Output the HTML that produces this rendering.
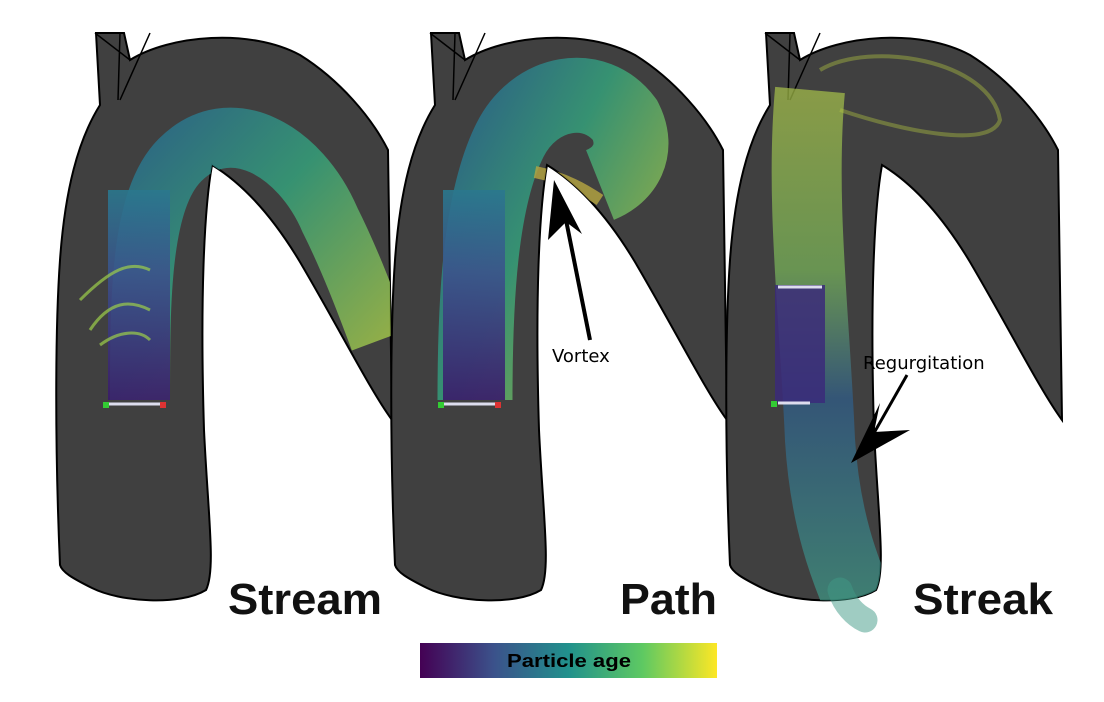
<!DOCTYPE html>
<html><head><meta charset="utf-8"><style>
html,body{margin:0;padding:0;background:#fff;width:1104px;height:702px;overflow:hidden}
svg{display:block}
text{font-family:"Liberation Sans","DejaVu Sans",sans-serif}
</style></head><body>
<svg width="1104" height="702" viewBox="0 0 1104 702">
<defs>
<linearGradient id="vir" x1="0" x2="1" y1="0" y2="0">
<stop offset="0" stop-color="#440154"/><stop offset="0.25" stop-color="#3b528b"/><stop offset="0.5" stop-color="#21918c"/><stop offset="0.75" stop-color="#5ec962"/><stop offset="1" stop-color="#fde725"/>
</linearGradient>
<linearGradient id="asc" x1="0" x2="0" y1="1" y2="0">
<stop offset="0" stop-color="#3a1a6a"/><stop offset="0.6" stop-color="#3b528b"/><stop offset="1" stop-color="#2a788e"/>
</linearGradient>
<linearGradient id="arch1" x1="0" x2="1" y1="0" y2="1">
<stop offset="0" stop-color="#2a6f8e"/><stop offset="0.4" stop-color="#35a07a"/><stop offset="1" stop-color="#b5c840"/>
</linearGradient>
<linearGradient id="streak" x1="0" x2="0" y1="0" y2="1">
<stop offset="0" stop-color="#a8c24a"/><stop offset="0.35" stop-color="#7ab85a"/><stop offset="0.6" stop-color="#2f5f8e"/><stop offset="1" stop-color="#3f9a86"/>
</linearGradient>
<path id="aorta" d="M60,565 C55,450 55,330 60,260 C65,190 78,140 100,105 L96,33 L124,33 L130,60 C170,35 250,28 300,55 C340,80 372,118 388,150 L392,420 C370,390 340,330 300,262 C270,212 240,182 212,165 C204,210 200,300 204,430 C208,515 216,570 206,590 C180,606 120,602 92,588 C72,578 62,572 60,565 Z"/>
<clipPath id="clipA"><use href="#aorta"/></clipPath>
</defs>

<g>
<use href="#aorta" fill="#404040" stroke="#000" stroke-width="2"/>
<path d="M95,33 L130,60 M120,33 L118,100 M150,33 L120,100" stroke="#000" stroke-width="1.5" fill="none"/>
<g clip-path="url(#clipA)">
<path d="M140,400 C140,300 140,200 180,160 C230,110 300,150 330,220 C350,260 365,300 380,340" stroke="url(#arch1)" stroke-width="60" fill="none" opacity="0.85"/>
<rect x="108" y="190" width="62" height="210" fill="url(#asc)" opacity="0.9"/>
</g>
<path d="M80,300 C110,270 130,260 150,270 M90,330 C110,300 130,300 150,310 M100,345 C120,330 140,330 150,340" stroke="#9ccf4a" stroke-width="3" fill="none" opacity="0.7"/>
<line x1="108" y1="404" x2="163" y2="404" stroke="#dde" stroke-width="3"/>
<rect x="103" y="402" width="6" height="6" fill="#3c3"/><rect x="160" y="402" width="6" height="6" fill="#d33"/>
<text x="228" y="614" font-size="44" font-weight="bold" fill="#111" textLength="154" lengthAdjust="spacingAndGlyphs">Stream</text>
</g>

<g transform="translate(335,0)">
<use href="#aorta" fill="#404040" stroke="#000" stroke-width="2"/>
<path d="M95,33 L130,60 M120,33 L118,100 M150,33 L120,100" stroke="#000" stroke-width="1.5" fill="none"/>
<g clip-path="url(#clipA)">
<path d="M140,400 C140,300 145,200 175,140 C200,90 260,80 290,120 C305,150 290,175 265,185" stroke="url(#arch1)" stroke-width="75" fill="none" opacity="0.85"/>
<rect x="108" y="190" width="62" height="210" fill="url(#asc)" opacity="0.9"/>
<path d="M200,172 C230,178 250,190 265,200" stroke="#b7a640" stroke-width="12" fill="none" opacity="0.8"/>
</g>
<line x1="108" y1="404" x2="163" y2="404" stroke="#dde" stroke-width="3"/>
<rect x="103" y="402" width="6" height="6" fill="#3c3"/><rect x="160" y="402" width="6" height="6" fill="#d33"/>
<text x="285" y="614" font-size="44" font-weight="bold" fill="#111" textLength="97" lengthAdjust="spacingAndGlyphs">Path</text>
</g>

<g transform="translate(670,0)">
<use href="#aorta" fill="#404040" stroke="#000" stroke-width="2"/>
<path d="M95,33 L130,60 M120,33 L118,100 M150,33 L120,100" stroke="#000" stroke-width="1.5" fill="none"/>
<g clip-path="url(#clipA)">
<path d="M140,90 C130,200 145,320 150,440 C155,520 175,570 190,605" stroke="url(#streak)" stroke-width="70" fill="none" opacity="0.7"/>
</g>
<path d="M170,590 C175,605 185,615 195,620" stroke="#3f9a86" stroke-width="25" stroke-linecap="round" fill="none" opacity="0.5"/>
<path d="M150,70 C200,40 320,60 330,120 C320,150 230,130 170,110" stroke="#b5c840" stroke-width="4" fill="none" opacity="0.4"/>
<rect x="105" y="285" width="50" height="118" fill="#3b2a7a" opacity="0.85"/>
<line x1="108" y1="287" x2="152" y2="287" stroke="#dde" stroke-width="3"/>
<line x1="108" y1="403" x2="140" y2="403" stroke="#dde" stroke-width="3"/>
<rect x="101" y="401" width="6" height="6" fill="#3c3"/>
<text x="243" y="614" font-size="44" font-weight="bold" fill="#111" textLength="140" lengthAdjust="spacingAndGlyphs">Streak</text>
</g>

<g>
<line x1="590" y1="340" x2="566" y2="220" stroke="#000" stroke-width="4"/>
<polygon points="554,180 548,240 566,222 582,234" fill="#000"/>
<text x="552" y="362" font-size="18" fill="#000" style="font-family:'DejaVu Sans',sans-serif">Vortex</text>
</g>
<g>
<line x1="907" y1="375" x2="870" y2="440" stroke="#000" stroke-width="3"/>
<polygon points="851,463 880,403 874,432 910,430" fill="#000"/>
<text x="863" y="369" font-size="18" fill="#000" style="font-family:'DejaVu Sans',sans-serif">Regurgitation</text>
</g>

<g>
<rect x="420" y="643" width="297" height="35" fill="url(#vir)"/>
<text x="507" y="667" font-size="18" font-weight="bold" fill="#000" textLength="124" lengthAdjust="spacingAndGlyphs">Particle age</text>
</g>
</svg>
</body></html>
